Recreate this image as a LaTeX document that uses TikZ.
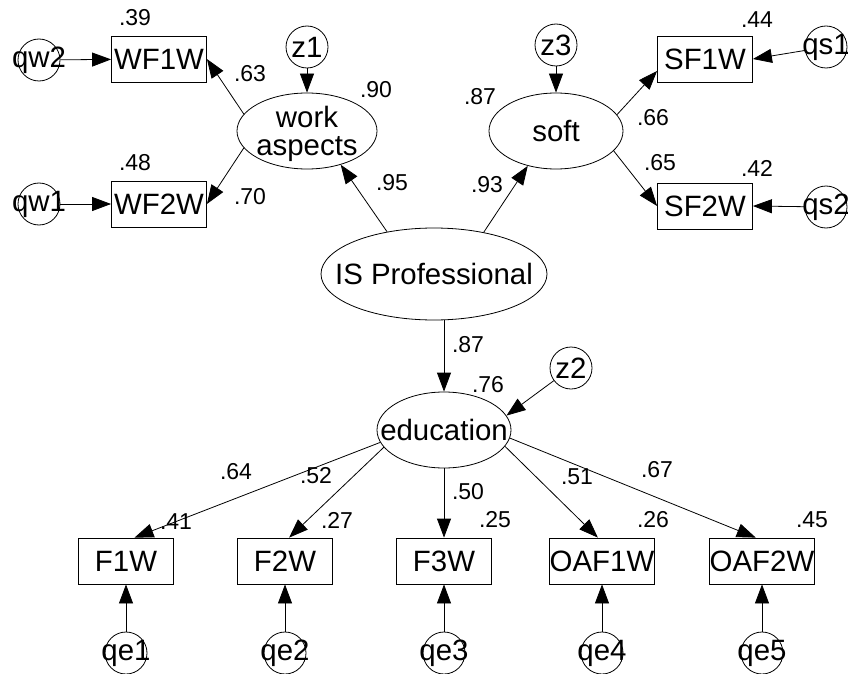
\documentclass[tikz,border=0pt]{standalone}
\usepackage{fontspec}
\setmainfont{Liberation Sans}
\usetikzlibrary{shapes.geometric,arrows.meta}
\begin{document}
\begin{tikzpicture}[x=1pt,y=-1pt,
  big/.style={font=\fontsize{29.4}{30}\selectfont},
  num/.style={font=\fontsize{23}{24}\selectfont, inner sep=0pt},
  obs/.style={draw, rectangle, minimum width=95pt, minimum height=46pt, inner sep=0pt, big},
  err/.style={draw, circle, minimum size=42pt, inner sep=0pt},
  lat/.style={draw, ellipse, inner sep=0pt},
  arr/.style={-{Triangle[length=19pt,width=14pt]}, line width=0.8pt},
  every path/.style={line width=0.8pt}]
\useasboundingbox (0,0) rectangle (848,674);
% boxes
\node[obs] (WF1W) at (159,59) {WF1W};
\node[obs] (WF2W) at (159,204) {WF2W};
\node[obs] (SF1W) at (705,59) {SF1W};
\node[obs] (SF2W) at (705,206) {SF2W};
\node[obs] (F1W) at (126,561) {F1W};
\node[obs] (F2W) at (285,561) {F2W};
\node[obs] (F3W) at (444,561) {F3W};
\node[obs] (OAF1W) at (602,561) {OAF1W};
\node[obs] (OAF2W) at (762,561) {OAF2W};
% latent
\node[lat, minimum width=140pt, minimum height=76pt] (wa) at (307,131) {};
\node[big, inner sep=0pt] (wat) at (307,117) {work};
\node[big, inner sep=0pt] (wab) at (307,149) {aspects};
\node[lat, minimum width=134pt, minimum height=76pt, label={[big]center:soft}] (soft) at (556,131) {};
\node[lat, minimum width=226pt, minimum height=92pt, label={[big]center:IS Professional}] (IS) at (434,274) {};
\node[lat, minimum width=134pt, minimum height=76pt, label={[big]center:education}] (edu) at (444,430) {};
% errors
\node[err, label={[big]center:qw2}] (qw2) at (39,60) {};
\node[err, label={[big]center:qw1}] (qw1) at (39,204) {};
\node[err, label={[big]center:z1}] (z1) at (307,47) {};
\node[err, label={[big]center:z3}] (z3) at (556,45) {};
\node[err, label={[big]center:qs1}] (qs1) at (826,47) {};
\node[err, label={[big]center:qs2}] (qs2) at (826,207) {};
\node[err, label={[big]center:z2}] (z2) at (571,368) {};
\node[err, label={[big]center:qe1}] (qe1) at (126,653) {};
\node[err, label={[big]center:qe2}] (qe2) at (285,653) {};
\node[err, label={[big]center:qe3}] (qe3) at (444,653) {};
\node[err, label={[big]center:qe4}] (qe4) at (602,653) {};
\node[err, label={[big]center:qe5}] (qe5) at (762,653) {};
% arrows
\draw[arr] (qw2) -- (WF1W);
\draw[arr] (qw1) -- (WF2W);
\draw[arr] (z1) -- (wa);
\draw[arr] (z3) -- (soft);
\draw[arr] (qs1) -- (SF1W.east);
\draw[arr] (qs2) -- (SF2W.east);
\draw[arr] (wa.165) -- (WF1W.east);
\draw[arr] (wa.195) -- (WF2W.east);
\draw[arr] (soft.15) -- (SF1W.194);
\draw[arr] (soft.-19) -- (SF2W.west);
\draw[arr] (IS.138) -- (wa.-45);
\draw[arr] (IS.40) -- (soft.231);
\draw[arr] (edu.north |- IS.south) -- (edu.north);
\draw[arr] (z2) -- (edu.13);
\draw[arr] (edu.191) -- (F1W.70);
\draw[arr] (edu.196) -- (F2W.80);
\draw[arr] (edu.south) -- (F3W.north);
\draw[arr] (edu.-15) -- (OAF1W.100);
\draw[arr] (edu.-7) -- (OAF2W.105);
\draw[arr] (qe1) -- (F1W);
\draw[arr] (qe2) -- (F2W);
\draw[arr] (qe3) -- (F3W);
\draw[arr] (qe4) -- (OAF1W);
\draw[arr] (qe5) -- (OAF2W);
% numbers
\node[num] (n1) at (135,18) {.39};
\node[num] (n2) at (135,163) {.48};
\node[num] (n3) at (250,74) {.63};
\node[num] (n4) at (250,197) {.70};
\node[num] (n5) at (376,90) {.90};
\node[num] (n6) at (392,183) {.95};
\node[num] (n7) at (480,97) {.87};
\node[num] (n8) at (487,185) {.93};
\node[num] (n9) at (757,20) {.44};
\node[num] (n10) at (653,118) {.66};
\node[num] (n11) at (660,163) {.65};
\node[num] (n12) at (757,168) {.42};
\node[num] (n13) at (468,345) {.87};
\node[num] (n14) at (488,385) {.76};
\node[num] (n15) at (236,472) {.64};
\node[num] (n16) at (176,522) {.41};
\node[num] (n17) at (316,476) {.52};
\node[num] (n18) at (337,520) {.27};
\node[num] (n19) at (468,492) {.50};
\node[num] (n20) at (495,520) {.25};
\node[num] (n21) at (577,477) {.51};
\node[num] (n22) at (653,520) {.26};
\node[num] (n23) at (657,470) {.67};
\node[num] (n24) at (812,520) {.45};
\end{tikzpicture}
\end{document}
